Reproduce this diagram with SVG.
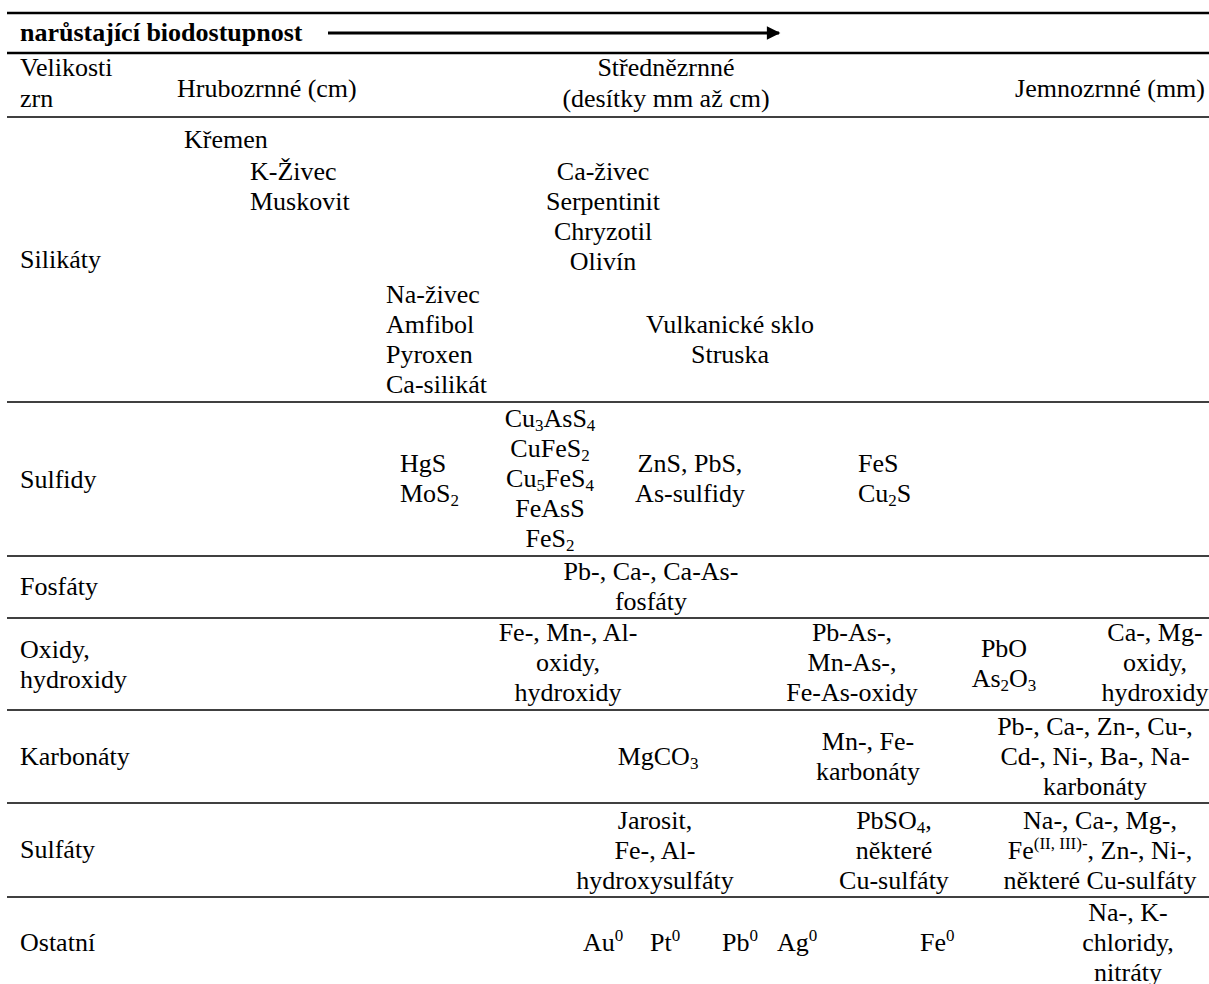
<svg xmlns="http://www.w3.org/2000/svg" width="1209" height="984" viewBox="0 0 1209 984">
<style>
text{font-family:"Liberation Serif","Times New Roman",serif;font-size:26px;fill:#000}
.b{font-weight:bold}
.m{text-anchor:middle}
.e{text-anchor:end}
.sub{font-size:17px;baseline-shift:-4px}
.sup{font-size:17px;baseline-shift:10px}
.thick{stroke:#000;stroke-width:2.6}
.thin{stroke:#000;stroke-width:1.6}
</style>
<defs>
<marker id="ah" viewBox="0 0 10 10" refX="9" refY="5" markerWidth="6.5" markerHeight="4.5" orient="auto" markerUnits="strokeWidth">
<path d="M0,0 L10,5 L0,10 z" fill="#000"/>
</marker>
</defs>
<rect width="1209" height="984" fill="#fff"/>
<g id="rules">
<line class="thick" x1="7" y1="13" x2="1209" y2="13"/>
<line class="thick" x1="7" y1="53" x2="1209" y2="53"/>
<line class="thin" x1="7" y1="117" x2="1209" y2="117"/>
<line class="thin" x1="7" y1="402" x2="1209" y2="402"/>
<line class="thin" x1="7" y1="556" x2="1209" y2="556"/>
<line class="thin" x1="7" y1="618" x2="1209" y2="618"/>
<line class="thin" x1="7" y1="710" x2="1209" y2="710"/>
<line class="thin" x1="7" y1="803" x2="1209" y2="803"/>
<line class="thin" x1="7" y1="897" x2="1209" y2="897"/>
</g>
<g id="connectors">
<line x1="328" y1="33" x2="779" y2="33" stroke="#000" stroke-width="3" marker-end="url(#ah)"/>
</g>
<g id="title"><text class="b" x="20" y="41">narůstající biodostupnost</text></g>
<g id="hdr-velikosti"><text x="20" y="76">Velikosti</text><text x="20" y="107">zrn</text></g>
<g id="hdr-hrubo"><text x="177" y="97">Hrubozrnné (cm)</text></g>
<g id="hdr-stredne"><text class="m" x="666" y="76">Střednězrnné</text><text class="m" x="666" y="107">(desítky mm až cm)</text></g>
<g id="hdr-jemno"><text class="e" x="1205" y="97">Jemnozrnné (mm)</text></g>

<g id="row-silikaty"><text x="20" y="268">Silikáty</text></g>
<g id="kremen"><text x="184" y="148">Křemen</text></g>
<g id="k-zivec"><text x="250" y="180">K-Živec</text><text x="250" y="210">Muskovit</text></g>
<g id="ca-zivec"><text class="m" x="603" y="180">Ca-živec</text><text class="m" x="603" y="210">Serpentinit</text><text class="m" x="603" y="240">Chryzotil</text><text class="m" x="603" y="270">Olivín</text></g>
<g id="na-zivec"><text x="386" y="303">Na-živec</text><text x="386" y="333">Amfibol</text><text x="386" y="363">Pyroxen</text><text x="386" y="393">Ca-silikát</text></g>
<g id="vulkan"><text class="m" x="730" y="333">Vulkanické sklo</text><text class="m" x="730" y="363">Struska</text></g>

<g id="row-sulfidy"><text x="20" y="488">Sulfidy</text></g>
<g id="hgs"><text x="400" y="472">HgS</text><text x="400" y="502">MoS<tspan class="sub">2</tspan></text></g>
<g id="cu3ass4"><text class="m" x="550" y="427">Cu<tspan class="sub">3</tspan>AsS<tspan class="sub">4</tspan></text><text class="m" x="550" y="457">CuFeS<tspan class="sub">2</tspan></text><text class="m" x="550" y="487">Cu<tspan class="sub">5</tspan>FeS<tspan class="sub">4</tspan></text><text class="m" x="550" y="517">FeAsS</text><text class="m" x="550" y="547">FeS<tspan class="sub">2</tspan></text></g>
<g id="zns"><text class="m" x="690" y="472">ZnS, PbS,</text><text class="m" x="690" y="502">As-sulfidy</text></g>
<g id="fes"><text x="858" y="472">FeS</text><text x="858" y="502">Cu<tspan class="sub">2</tspan>S</text></g>

<g id="row-fosfaty"><text x="20" y="595">Fosfáty</text></g>
<g id="fosfaty"><text class="m" x="651" y="580">Pb-, Ca-, Ca-As-</text><text class="m" x="651" y="610">fosfáty</text></g>

<g id="row-oxidy"><text x="20" y="658">Oxidy,</text><text x="20" y="688">hydroxidy</text></g>
<g id="fe-mn-al"><text class="m" x="568" y="641">Fe-, Mn-, Al-</text><text class="m" x="568" y="671">oxidy,</text><text class="m" x="568" y="701">hydroxidy</text></g>
<g id="pb-as"><text class="m" x="852" y="641">Pb-As-,</text><text class="m" x="852" y="671">Mn-As-,</text><text class="m" x="852" y="701">Fe-As-oxidy</text></g>
<g id="pbo"><text class="m" x="1004" y="657">PbO</text><text class="m" x="1004" y="687">As<tspan class="sub">2</tspan>O<tspan class="sub">3</tspan></text></g>
<g id="ca-mg-ox"><text class="m" x="1155" y="641">Ca-, Mg-</text><text class="m" x="1155" y="671">oxidy,</text><text class="m" x="1155" y="701">hydroxidy</text></g>

<g id="row-karbonaty"><text x="20" y="765">Karbonáty</text></g>
<g id="mgco3"><text class="m" x="658" y="765">MgCO<tspan class="sub">3</tspan></text></g>
<g id="mn-fe-karb"><text class="m" x="868" y="750">Mn-, Fe-</text><text class="m" x="868" y="780">karbonáty</text></g>
<g id="pb-ca-karb"><text class="m" x="1095" y="735">Pb-, Ca-, Zn-, Cu-,</text><text class="m" x="1095" y="765">Cd-, Ni-, Ba-, Na-</text><text class="m" x="1095" y="795">karbonáty</text></g>

<g id="row-sulfaty"><text x="20" y="858">Sulfáty</text></g>
<g id="jarosit"><text class="m" x="655" y="829">Jarosit,</text><text class="m" x="655" y="859">Fe-, Al-</text><text class="m" x="655" y="889">hydroxysulfáty</text></g>
<g id="pbso4"><text class="m" x="894" y="829">PbSO<tspan class="sub">4</tspan>,</text><text class="m" x="894" y="859">některé</text><text class="m" x="894" y="889">Cu-sulfáty</text></g>
<g id="na-ca-sulf"><text class="m" x="1100" y="829">Na-, Ca-, Mg-,</text><text class="m" x="1100" y="859">Fe<tspan class="sup">(II, III)-</tspan>, Zn-, Ni-,</text><text class="m" x="1100" y="889">některé Cu-sulfáty</text></g>

<g id="row-ostatni"><text x="20" y="951">Ostatní</text></g>
<g id="au"><text x="583" y="951">Au<tspan class="sup">0</tspan></text></g>
<g id="pt"><text x="650" y="951">Pt<tspan class="sup">0</tspan></text></g>
<g id="pb"><text x="722" y="951">Pb<tspan class="sup">0</tspan></text></g>
<g id="ag"><text x="777" y="951">Ag<tspan class="sup">0</tspan></text></g>
<g id="fe"><text x="920" y="951">Fe<tspan class="sup">0</tspan></text></g>
<g id="na-k"><text class="m" x="1128" y="921">Na-, K-</text><text class="m" x="1128" y="951">chloridy,</text><text class="m" x="1128" y="981">nitráty</text></g>
</svg>
